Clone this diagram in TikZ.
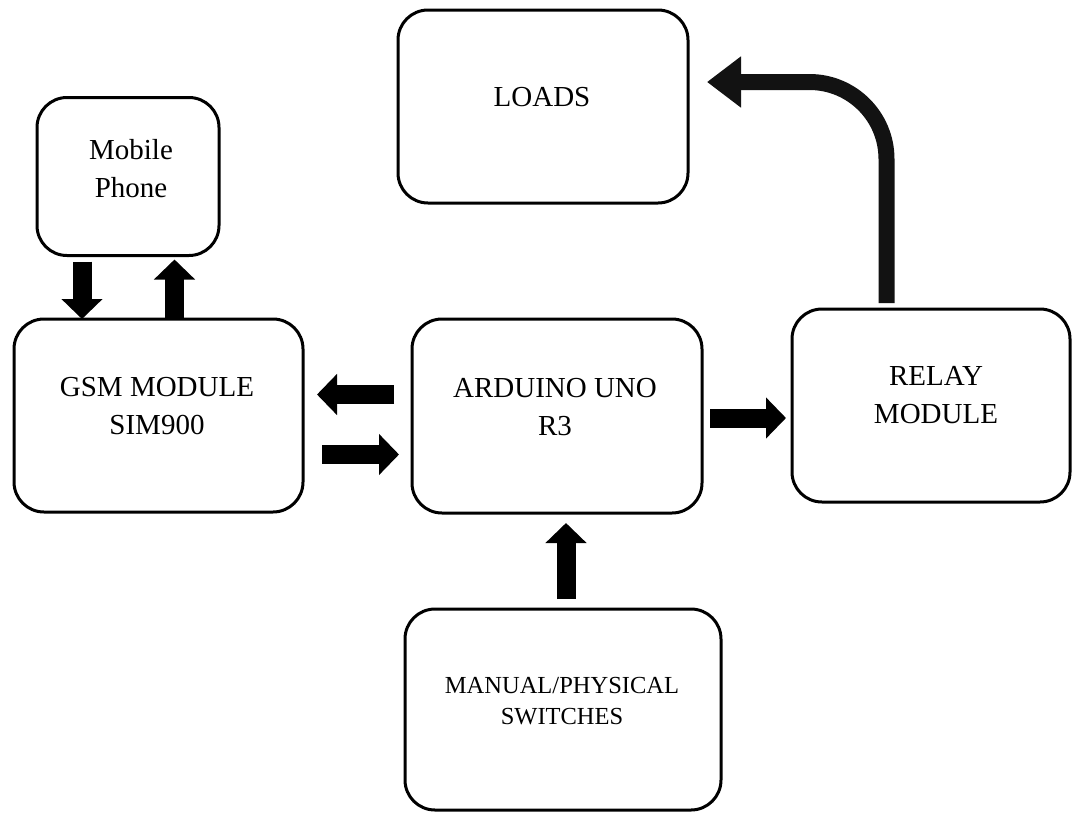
\documentclass[tikz,border=0pt]{standalone}
\usepackage{fontspec}
\setmainfont{Liberation Serif}
\usetikzlibrary{arrows.meta,calc}
\tikzset{
  blockbox/.style={draw=black, line width=3pt, rounded corners=30pt, outer sep=0pt, inner sep=0pt, fill=white},
  lbl/.style={align=center, inner sep=0pt, font=\fontsize{29}{38}\selectfont},
  lblsmall/.style={align=center, inner sep=0pt, font=\fontsize{24.5}{31}\selectfont},
  blk/.style={line width=19pt, line cap=butt, draw=black, -{Triangle[width=40pt,length=20pt]}},
  blkcurve/.style={line width=16pt, line cap=butt, draw=black!93, rounded corners=77pt, -{Triangle[width=49pt,length=34pt]}}
}
\begin{document}
\begin{tikzpicture}[x=1pt,y=-1pt]
\useasboundingbox (0,0) rectangle (1074,812);
\fill[white] (0,0) rectangle (1074,812);
% boxes
\node[blockbox, minimum width=182pt, minimum height=158pt] (mob) at (128,176.5) {};
\node[blockbox, minimum width=290pt, minimum height=193pt] (loads) at (543,106.5) {};
\node[blockbox, minimum width=289pt, minimum height=193pt] (gsm) at (158.5,415.5) {};
\node[blockbox, minimum width=290pt, minimum height=194pt] (ard) at (557,416) {};
\node[blockbox, minimum width=278pt, minimum height=193pt] (relay) at (931,405.5) {};
\node[blockbox, minimum width=316pt, minimum height=201pt] (man) at (563,709.5) {};
% labels
\node[lbl] (mobt) at (131,168.5) {Mobile\\Phone};
\node[lbl] (loadst) at (542,97) {LOADS};
\node[lbl] (gsmt) at (157,406) {GSM MODULE\\SIM900};
\node[lbl] (ardt) at (555,407.5) {ARDUINO UNO\\R3};
\node[lbl] (relayt) at (936,395.5) {RELAY\\MODULE};
\node[lblsmall] (mant) at (562,701.5) {MANUAL/PHYSICAL\\SWITCHES};
% arrows
\draw[blk] ($(mob.south)+(-46,6)$) -- ($(gsm.north)+(-76.5,0)$);
\draw[blk] ($(gsm.north)+(16,0)$) -- ($(mob.south)+(46.5,4)$);
\draw[blk] ($(ard.west)+(-18,-21.5)$) -- ($(gsm.east)+(14,-21)$);
\draw[blk] ($(gsm.east)+(19,39)$) -- ($(ard.west)+(-13,38.5)$);
\draw[blk] ($(ard.east)+(8,2)$) -- ($(relay.west)+(-6,12.5)$);
\draw[blk] ($(man.north)+(3,-10)$) -- ($(ard.south)+(9,10)$);
\draw[blkcurve] ($(relay.north)+(-44.5,-6)$) |- ($(loads.east)+(19,-24.5)$);
\end{tikzpicture}
\end{document}
